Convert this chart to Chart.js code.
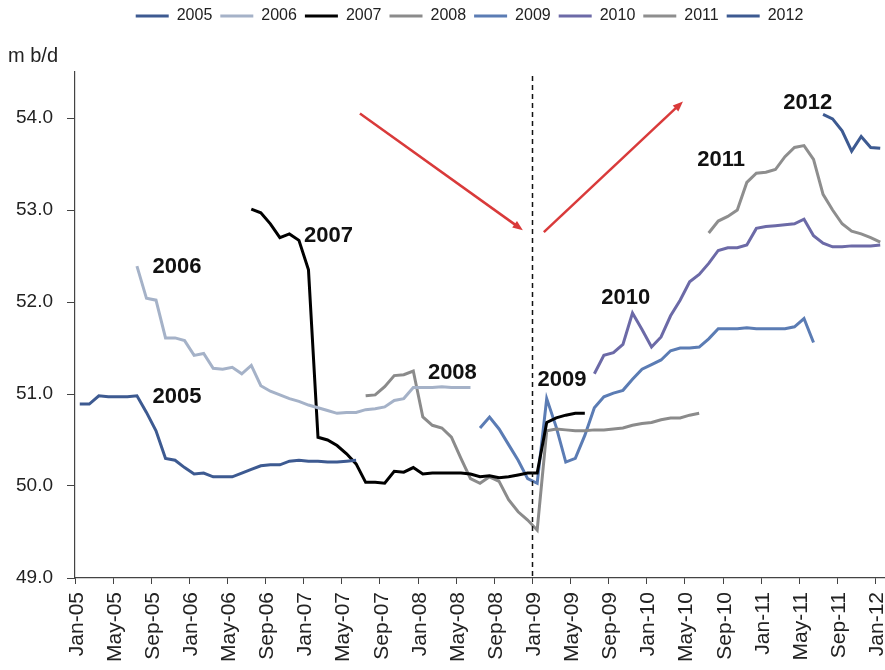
<!DOCTYPE html>
<html>
<head>
<meta charset="utf-8">
<script src="https://cdn.jsdelivr.net/npm/chart.js@4.4.1/dist/chart.umd.min.js"></script>
<style>
  html, body { margin: 0; padding: 0; background: #fff; }
  #wrap { width: 885px; height: 670px; }
</style>
</head>
<body>
<div id="wrap"><canvas id="supplyChart"></canvas></div>
<script>
// monthly categories
const months = [
  'Jan-05','Feb-05','Mar-05','Apr-05','May-05','Jun-05','Jul-05','Aug-05','Sep-05','Oct-05','Nov-05','Dec-05',
  'Jan-06','Feb-06','Mar-06','Apr-06','May-06','Jun-06','Jul-06','Aug-06','Sep-06','Oct-06','Nov-06','Dec-06',
  'Jan-07','Feb-07','Mar-07','Apr-07','May-07','Jun-07','Jul-07','Aug-07','Sep-07','Oct-07','Nov-07','Dec-07',
  'Jan-08','Feb-08','Mar-08','Apr-08','May-08','Jun-08','Jul-08','Aug-08','Sep-08','Oct-08','Nov-08','Dec-08',
  'Jan-09','Feb-09','Mar-09','Apr-09','May-09','Jun-09','Jul-09','Aug-09','Sep-09','Oct-09','Nov-09','Dec-09',
  'Jan-10','Feb-10','Mar-10','Apr-10','May-10','Jun-10','Jul-10','Aug-10','Sep-10','Oct-10','Nov-10','Dec-10',
  'Jan-11','Feb-11','Mar-11','Apr-11','May-11','Jun-11','Jul-11','Aug-11','Sep-11','Oct-11','Nov-11','Dec-11',
  'Jan-12'
];

const yTicks = [49, 50, 51, 52, 53, 54];

// forecast vintages (m b/d), each starts at its first month
const start2005 = 'Jan-05';
const vals2005 = [50.89, 50.89, 50.98, 50.97, 50.97, 50.97, 50.98, 50.8, 50.6, 50.3, 50.28, 50.2, 50.13, 50.14, 50.1,
  50.1, 50.1, 50.14, 50.18, 50.22, 50.23, 50.23, 50.27, 50.28, 50.27, 50.27, 50.26, 50.26, 50.27, 50.28];

const start2006 = 'Jul-05';
const vals2006 = [52.39, 52.04, 52.02, 51.61, 51.61, 51.58, 51.42, 51.44, 51.28, 51.27, 51.29, 51.22, 51.31, 51.09,
  51.03, 50.99, 50.95, 50.92, 50.88, 50.85, 50.82, 50.79, 50.8, 50.8, 50.83, 50.84, 50.86, 50.93, 50.95, 51.07,
  51.07, 51.07, 51.08, 51.07, 51.07, 51.07];

const start2007 = 'Jul-06';
const vals2007 = [53.01, 52.97, 52.85, 52.7, 52.74, 52.67, 52.35, 50.53, 50.5, 50.44, 50.35, 50.24, 50.04, 50.04,
  50.03, 50.16, 50.15, 50.2, 50.13, 50.14, 50.14, 50.14, 50.14, 50.13, 50.1, 50.11, 50.09, 50.1, 50.12, 50.14,
  50.14, 50.69, 50.74, 50.77, 50.79, 50.79];

const start2008 = 'Jul-07';
const vals2008 = [50.98, 50.99, 51.08, 51.2, 51.21, 51.25, 50.75, 50.66, 50.63, 50.53, 50.3, 50.08, 50.03, 50.1,
  50.05, 49.85, 49.72, 49.63, 49.52, 50.6, 50.62, 50.61, 50.6, 50.6, 50.61, 50.61, 50.62, 50.63, 50.66, 50.68,
  50.69, 50.72, 50.74, 50.74, 50.77, 50.79];

const start2009 = 'Jul-08';
const vals2009 = [50.63, 50.75, 50.62, 50.45, 50.28, 50.08, 50.03, 50.95, 50.64, 50.26, 50.3, 50.55, 50.85, 50.97,
  51.01, 51.04, 51.16, 51.27, 51.32, 51.37, 51.47, 51.5, 51.5, 51.51, 51.6, 51.71, 51.71, 51.71, 51.72, 51.71,
  51.71, 51.71, 51.71, 51.73, 51.82, 51.56];

const start2010 = 'Jul-09';
const vals2010 = [51.22, 51.42, 51.45, 51.54, 51.88, 51.7, 51.51, 51.62, 51.85, 52.02, 52.22, 52.3, 52.42, 52.56,
  52.59, 52.59, 52.62, 52.8, 52.82, 52.83, 52.84, 52.85, 52.9, 52.72, 52.64, 52.6, 52.6, 52.61, 52.61, 52.61, 52.62];

const start2011 = 'Jul-10';
const vals2011 = [52.75, 52.88, 52.93, 53.0, 53.3, 53.4, 53.41, 53.44, 53.58, 53.68, 53.7, 53.55, 53.17, 53.0,
  52.85, 52.77, 52.74, 52.7, 52.65];

const start2012 = 'Jul-11';
const vals2012 = [54.04, 53.99, 53.86, 53.64, 53.8, 53.68, 53.67];

// annotations, in category index / value units
const yearLabels = [
  ['2005', 10.2, 50.97], ['2006', 10.2, 52.38], ['2007', 26.1, 52.72], ['2008', 39.1, 51.23],
  ['2009', 50.6, 51.15], ['2010', 57.3, 52.04], ['2011', 67.3, 53.54], ['2012', 76.4, 54.16]
];
const dividerAt = 47.5; // boundary before Jan-09
const arrows = [
  [29.4, 54.05, 46.5, 52.78],
  [48.7, 52.76, 63.3, 54.18]
];

const series = [
  ['2005', start2005, vals2005, '#3d5a91'],
  ['2006', start2006, vals2006, '#a5b2c8'],
  ['2007', start2007, vals2007, '#000000'],
  ['2008', start2008, vals2008, '#8b8b8b'],
  ['2009', start2009, vals2009, '#5b7cb4'],
  ['2010', start2010, vals2010, '#6c6aa7'],
  ['2011', start2011, vals2011, '#8e8e8e'],
  ['2012', start2012, vals2012, '#3d5a91']
];

const font = 'Liberation Sans, Arial, sans-serif';

const datasets = series.map(([name, start, vals, color]) => {
  const i0 = months.indexOf(start);
  return {
    label: name,
    data: vals.map((v, i) => ({ x: months[i0 + i], y: v })),
    borderColor: color,
    backgroundColor: color,
    borderWidth: 3,
    pointRadius: 0,
    tension: 0,
    fill: false
  };
});

const notes = {
  id: 'notes',
  afterLayout(chart) {
    // legend sits a little right of centre in the original
    chart.legend.left += 23;
    chart.legend.right += 23;
  },
  afterDatasetsDraw(chart) {
    const { ctx, chartArea, scales: { x, y } } = chart;
    ctx.save();

    const dx = Math.round(x.getPixelForValue(dividerAt)) + 0.5;
    ctx.strokeStyle = '#111';
    ctx.lineWidth = 1.5;
    ctx.setLineDash([5, 4]);
    ctx.beginPath();
    ctx.moveTo(dx, chartArea.top + 4);
    ctx.lineTo(dx, chartArea.bottom);
    ctx.stroke();
    ctx.setLineDash([]);

    ctx.strokeStyle = '#d93a3a';
    ctx.fillStyle = '#d93a3a';
    ctx.lineWidth = 2.5;
    arrows.forEach(([i0, v0, i1, v1]) => {
      const x0 = x.getPixelForValue(i0), y0 = y.getPixelForValue(v0);
      const x1 = x.getPixelForValue(i1), y1 = y.getPixelForValue(v1);
      const a = Math.atan2(y1 - y0, x1 - x0);
      const head = 11;
      ctx.beginPath();
      ctx.moveTo(x0, y0);
      ctx.lineTo(x1 - Math.cos(a) * head * 0.8, y1 - Math.sin(a) * head * 0.8);
      ctx.stroke();
      ctx.beginPath();
      ctx.moveTo(x1, y1);
      ctx.lineTo(x1 - head * Math.cos(a - 0.38), y1 - head * Math.sin(a - 0.38));
      ctx.lineTo(x1 - head * Math.cos(a + 0.38), y1 - head * Math.sin(a + 0.38));
      ctx.closePath();
      ctx.fill();
    });

    ctx.fillStyle = '#111';
    ctx.font = 'bold 22px ' + font;
    ctx.textAlign = 'center';
    ctx.textBaseline = 'middle';
    yearLabels.forEach(([t, i, v]) => {
      ctx.fillText(t, x.getPixelForValue(i), y.getPixelForValue(v));
    });
    ctx.restore();
  }
};

new Chart(document.getElementById('supplyChart'), {
  type: 'line',
  data: { labels: months, datasets },
  plugins: [notes],
  options: {
    responsive: true,
    maintainAspectRatio: false,
    animation: false,
    layout: { padding: { left: 8, right: 0, top: 0, bottom: 0 } },
    plugins: {
      legend: {
        position: 'top',
        weight: 3000,
        labels: {
          boxWidth: 33,
          boxHeight: 3,
          padding: 8,
          color: '#222',
          font: { family: font, size: 16 },
          generateLabels(chart) {
            return Chart.defaults.plugins.legend.labels.generateLabels(chart)
              .map(l => ({ ...l, fillStyle: l.strokeStyle, lineWidth: 0 }));
          }
        }
      },
      title: {
        display: true,
        text: 'm b/d',
        align: 'start',
        weight: 500,
        color: '#222',
        font: { family: font, size: 20, weight: 'normal' },
        padding: { top: 10, bottom: 4 }
      },
      tooltip: { enabled: false }
    },
    scales: {
      x: {
        type: 'category',
        offset: true,
        grid: {
          offset: true,
          drawOnChartArea: false,
          drawTicks: true,
          tickLength: 6,
          color: c => (c.index !== undefined && c.index % 4 === 0) ? '#444' : 'rgba(0,0,0,0)'
        },
        border: { display: true, color: '#444', width: 1.2 },
        ticks: {
          autoSkip: false,
          minRotation: 90,
          maxRotation: 90,
          padding: 8,
          labelOffset: -3,
          color: '#222',
          font: { family: font, size: 21 },
          callback: (v, i) => (i % 4 === 0 ? months[i] : '')
        },
        afterFit(scale) {
          scale.height = 92;
          scale.paddingLeft = 0;
          scale.paddingRight = 0;
        }
      },
      y: {
        min: 49,
        max: 54.5,
        ticks: {
          stepSize: 1,
          padding: 14,
          color: '#222',
          font: { family: font, size: 19 },
          callback: v => v.toFixed(1)
        },
        afterBuildTicks(scale) {
          scale.ticks = scale.ticks.filter(t => yTicks.includes(t.value));
        },
        grid: {
          drawOnChartArea: false,
          drawTicks: true,
          tickLength: 8,
          color: '#444'
        },
        border: { display: true, color: '#444', width: 1.2 },
        afterFit(scale) {
          scale.width = 67;
        }
      }
    }
  }
});
</script>
</body>
</html>
